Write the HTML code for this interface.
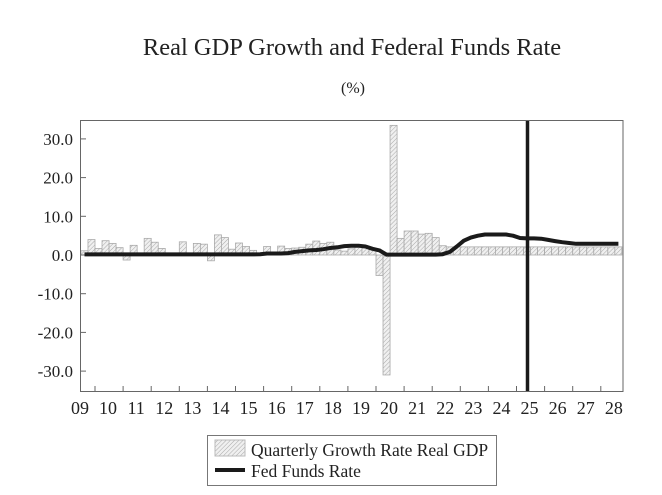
<!DOCTYPE html>
<html><head><meta charset="utf-8"><style>
body{margin:0;background:#fff;}
svg text{font-family:"Liberation Serif",serif;fill:#222;}
</style></head><body>
<svg id="chart" width="662" height="490" viewBox="0 0 662 490">
<defs>
<pattern id="hatch" width="3" height="3" patternUnits="userSpaceOnUse" patternTransform="rotate(45)">
<rect width="3" height="3" fill="#f0f0f0"/><line x1="0" y1="0" x2="0" y2="3" stroke="#a8a8a8" stroke-width="1"/>
</pattern>
</defs>
<text x="352" y="55" font-size="24.5" text-anchor="middle">Real GDP Growth and Federal Funds Rate</text>
<text x="353" y="93" font-size="16" text-anchor="middle">(%)</text>
<g id="bars"></g>
<g id="axes"></g>
<path id="fedline" fill="none" stroke="#1a1a1a" stroke-width="4" stroke-linejoin="round"/>
<line x1="527.5" y1="120" x2="527.5" y2="391" stroke="#1a1a1a" stroke-width="3.5"/>
<rect x="80.5" y="120.5" width="542.5" height="271" fill="none" stroke="#666" stroke-width="1"/>
<g>
<rect x="207.5" y="435.5" width="289" height="50" fill="#fff" stroke="#777"/>
<rect x="215" y="440" width="30" height="16" fill="url(#hatch)" stroke="#bbb"/>
<text x="251" y="456" font-size="17.5">Quarterly Growth Rate Real GDP</text>
<line x1="215" y1="470" x2="245" y2="470" stroke="#1a1a1a" stroke-width="4"/>
<text x="251" y="477" font-size="17.5">Fed Funds Rate</text>
</g>
</svg>
<script>
const startYear = 2009.5; // first quarter: 2009Q3
const gdpValues = [1.1,4.0,1.7,3.7,3.0,1.9,-1.3,2.5,0.2,4.3,3.3,1.7,0.5,0.5,3.4,0.5,3.0,2.8,-1.5,5.2,4.5,1.5,3.1,2.2,1.2,0.5,2.2,0.6,2.3,1.7,1.8,2.0,2.8,3.6,3.0,3.3,1.3,1.0,1.6,2.1,2.0,1.7,-5.3,-31.0,33.5,4.3,6.2,6.2,5.4,5.6,4.5,2.4,2.1,2.1,2.1,2.1,2.1,2.1,2.1,2.1,2.1,2.1,2.1,2.1,2.1,2.1,2.1,2.1,2.1,2.1,2.1,2.1,2.1,2.1,2.1,2.1,2.1];
const fedValues = [0.15,0.15,0.15,0.15,0.15,0.15,0.15,0.15,0.15,0.15,0.15,0.15,0.15,0.15,0.15,0.15,0.15,0.15,0.15,0.15,0.15,0.15,0.15,0.15,0.15,0.2,0.4,0.4,0.4,0.5,0.8,1.0,1.2,1.3,1.5,1.8,2.0,2.3,2.4,2.4,2.2,1.6,1.2,0.1,0.1,0.1,0.1,0.1,0.1,0.1,0.1,0.2,0.8,2.2,3.7,4.5,5.0,5.3,5.3,5.3,5.3,5.0,4.4,4.3,4.3,4.2,3.9,3.6,3.3,3.1,2.9,2.9,2.9,2.9,2.9,2.9,2.9];
const yTicks = [30,20,10,0,-10,-20,-30];
const yTickLabels = ["30.0","20.0","10.0","0.0","-10.0","-20.0","-30.0"];
const xYearLabels = ["09","10","11","12","13","14","15","16","17","18","19","20","21","22","23","24","25","26","27","28"];
const ns="http://www.w3.org/2000/svg";
const x = yr => 95 + (yr-2010)*28.1;
const y = v => 255 - v*3.87;
const qW = 28.1/4;
const bars=document.getElementById('bars'), axes=document.getElementById('axes');
gdpValues.forEach((v,i)=>{
  const x0=x(startYear+i*0.25);
  const r=document.createElementNS(ns,'rect');
  r.setAttribute('x',x0);r.setAttribute('width',qW);
  r.setAttribute('y',Math.min(y(v),y(0)));r.setAttribute('height',Math.abs(y(v)-y(0)));
  r.setAttribute('fill','url(#hatch)');r.setAttribute('stroke','#aaa');r.setAttribute('stroke-width','0.8');
  
  
  bars.appendChild(r);
});
let d='';
fedValues.forEach((v,i)=>{const px=x(startYear+i*0.25)+qW/2; d+=(i?'L':'M')+px.toFixed(1)+' '+y(v).toFixed(1);});
document.getElementById('fedline').setAttribute('d',d);
yTicks.forEach((t,i)=>{
  const l=document.createElementNS(ns,'line');
  l.setAttribute('x1',80.5);l.setAttribute('x2',86);l.setAttribute('y1',y(t));l.setAttribute('y2',y(t));l.setAttribute('stroke','#666');
  
  
  axes.appendChild(l);
  const tx=document.createElementNS(ns,'text');
  tx.setAttribute('x',73);tx.setAttribute('y',y(t)+6);tx.setAttribute('text-anchor','end');tx.setAttribute('font-size','17');
  tx.textContent=yTickLabels[i];
  
  
  axes.appendChild(tx);
});
xYearLabels.forEach((lab,i)=>{
  const yr=2009+i;
  if(yr>=2010){
    const l=document.createElementNS(ns,'line');
    l.setAttribute('x1',x(yr));l.setAttribute('x2',x(yr));l.setAttribute('y1',386);l.setAttribute('y2',391);l.setAttribute('stroke','#666');
    
    
    axes.appendChild(l);
  }
  const tx=document.createElementNS(ns,'text');
  tx.setAttribute('x',x(yr+0.5)-1);tx.setAttribute('y',414);tx.setAttribute('text-anchor','middle');tx.setAttribute('font-size','18');
  tx.textContent=lab;
  
  
  axes.appendChild(tx);
});
</script>
</body></html>
